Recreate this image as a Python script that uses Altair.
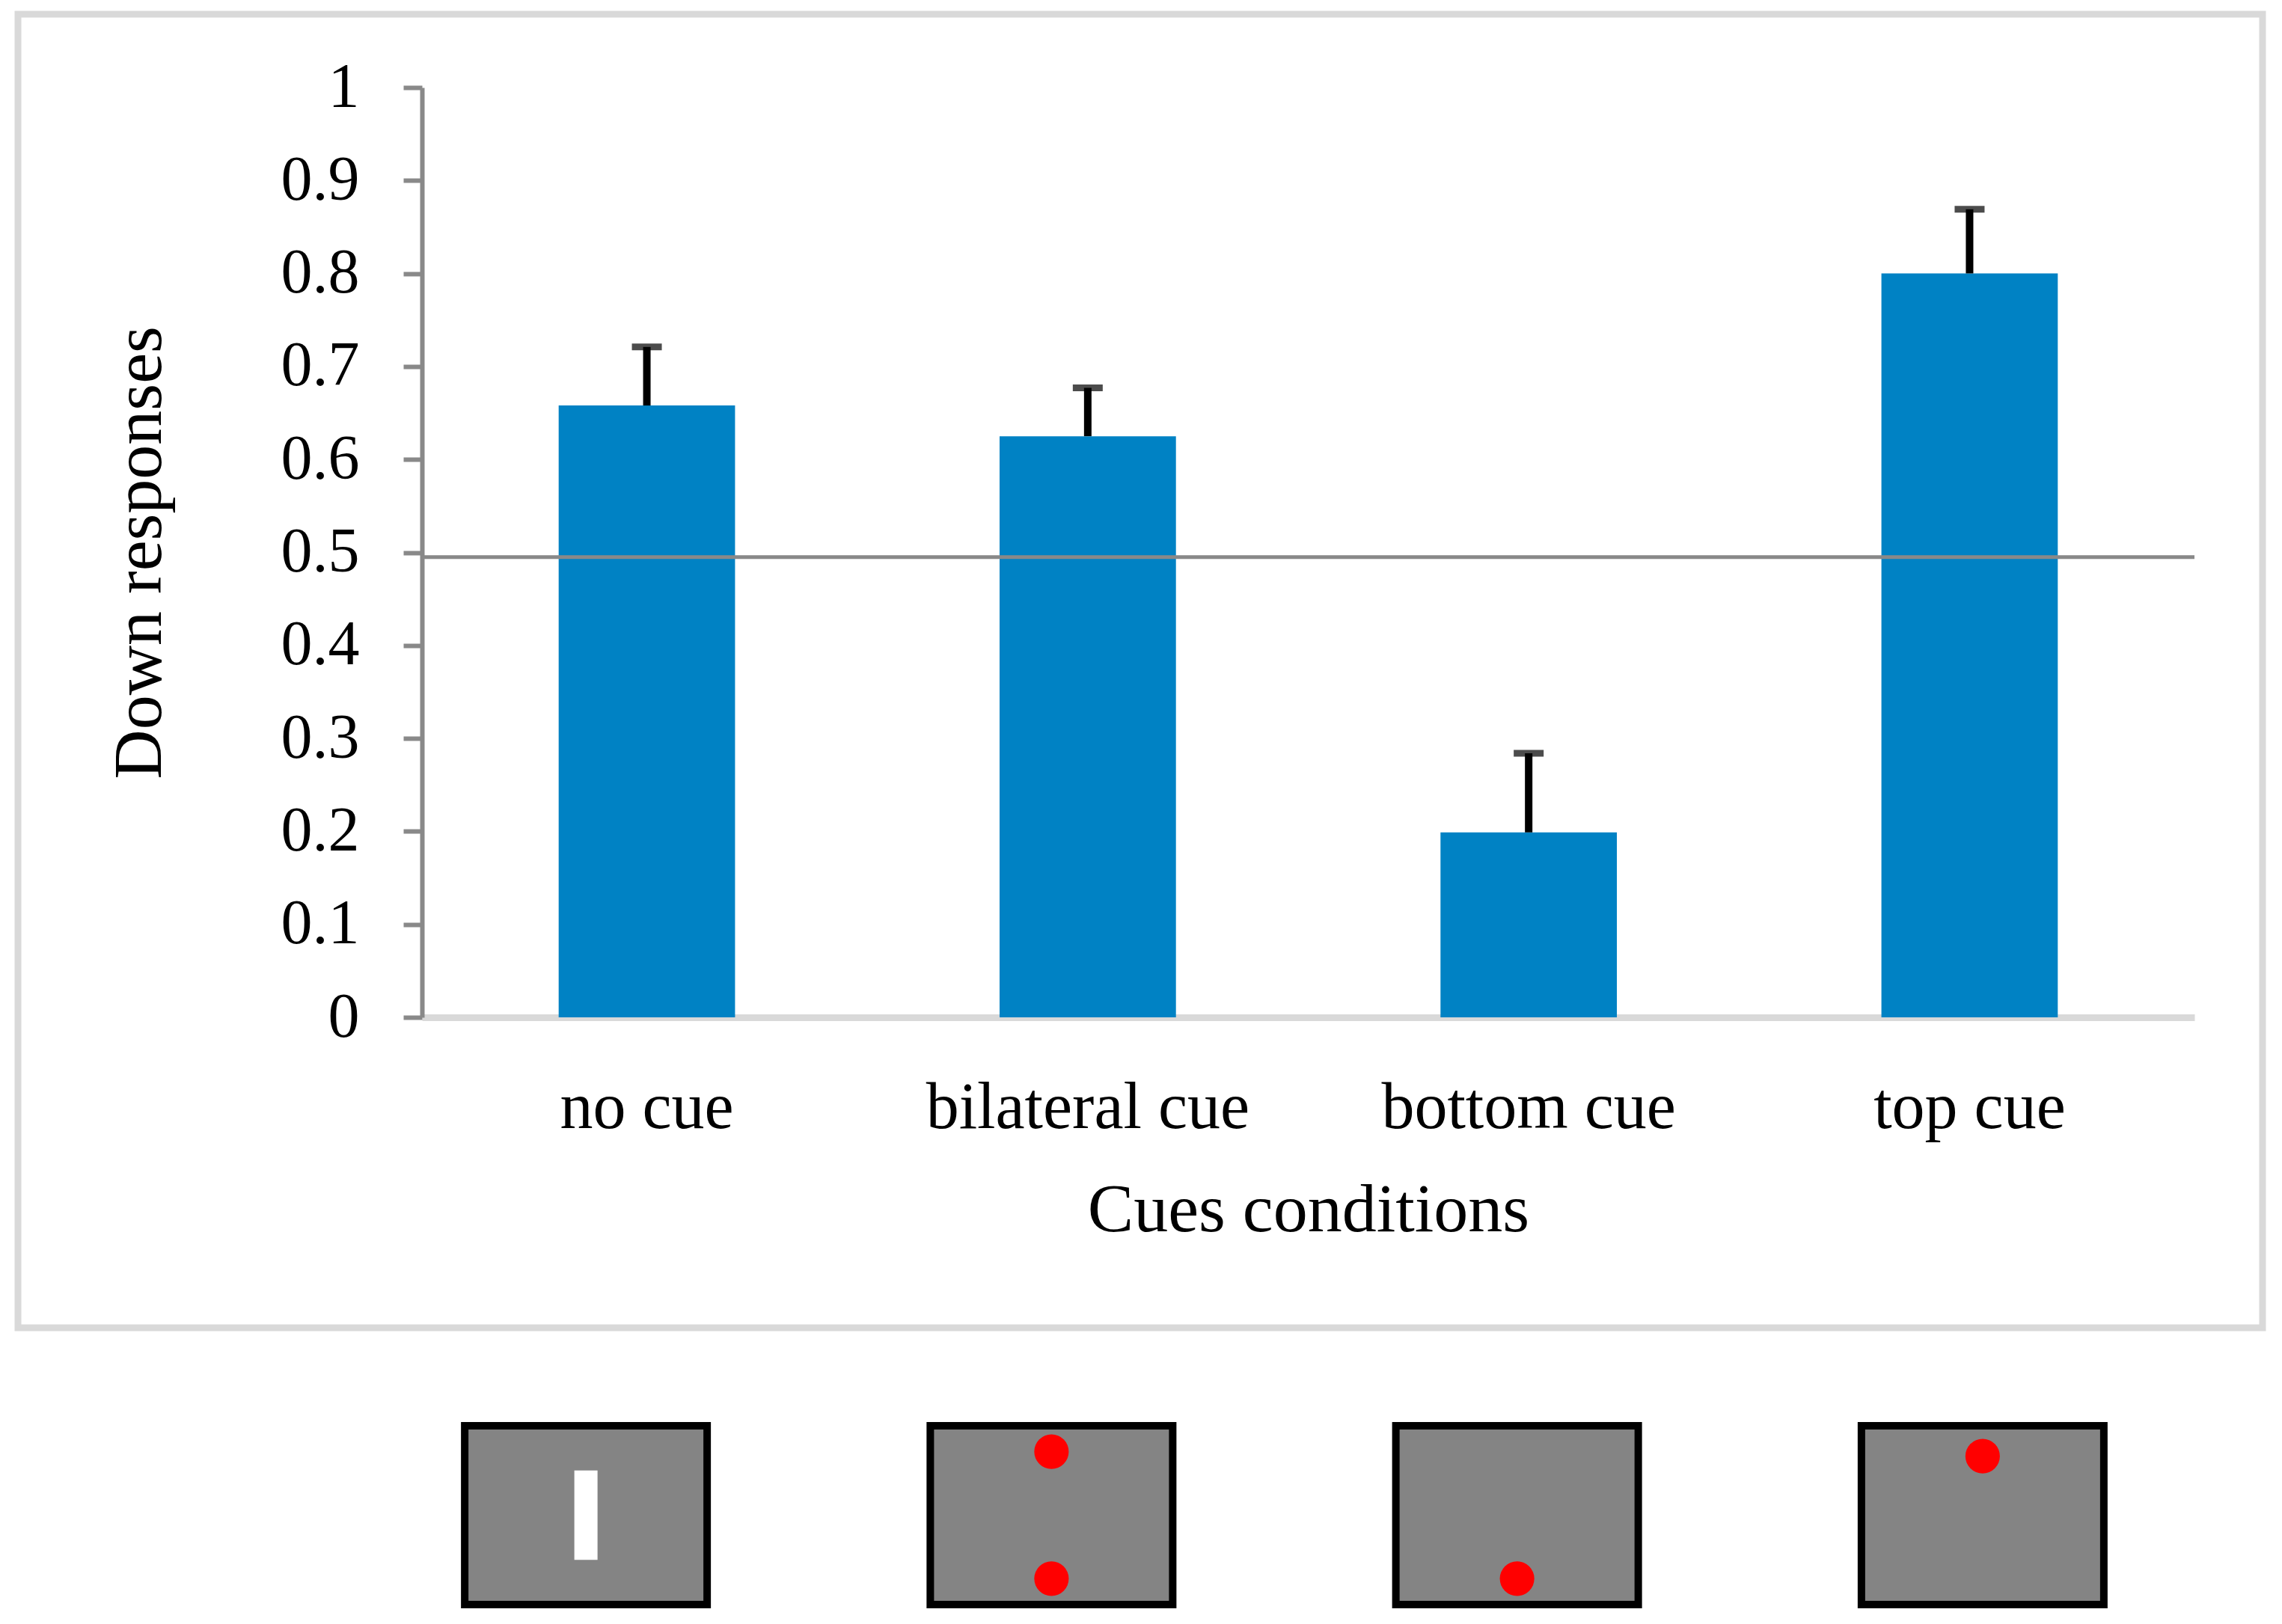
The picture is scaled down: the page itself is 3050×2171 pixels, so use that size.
import altair as alt
import pandas as pd

# ---- data ----
conditions = ["no cue", "bilateral cue", "bottom cue", "top cue"]
down_responses = [0.658, 0.625, 0.199, 0.800]
error_top = [0.721, 0.677, 0.284, 0.869]
chance_level = [0.495]
y_ticks = [0, 0.1, 0.2, 0.3, 0.4, 0.5, 0.6, 0.7, 0.8, 0.9, 1]

# stimulus illustrations below the chart (positions inside each box, 0 = bottom, 1 = top)
box_condition = ["no cue", "bilateral cue", "bottom cue", "top cue"]
box_low = [0, 0, 0, 0]
box_high = [1, 1, 1, 1]
cue_condition = ["bilateral cue", "bilateral cue", "bottom cue", "top cue"]
cue_position = [0.855, 0.145, 0.145, 0.83]
fixation_condition = ["no cue"]
fixation_low = [0.25]
fixation_high = [0.75]

df = pd.DataFrame({"condition": conditions, "value": down_responses, "err": error_top})
df_chance = pd.DataFrame({"value": chance_level})
df_box = pd.DataFrame({"condition": box_condition, "lo": box_low, "hi": box_high})
df_cue = pd.DataFrame({"condition": cue_condition, "pos": cue_position})
df_fix = pd.DataFrame({"condition": fixation_condition, "lo": fixation_low, "hi": fixation_high})

W, H = 2369, 1243
FONT = "Liberation Serif"

x_axis = alt.Axis(
    title="Cues conditions", domainColor="#d9d9d9", domainWidth=9, ticks=False, tickSize=0,
    labelFont=FONT, labelFontSize=88, labelColor="black", labelAngle=0, labelLimit=0,
    labelOverlap=False, labelBaseline="alphabetic", labelPadding=147,
    titleFont=FONT, titleFontSize=92, titleFontWeight="normal", titleColor="black",
    titleX=W / 2, titleY=285, titleBaseline="alphabetic", titleAlign="center", titleLimit=0,
)
y_axis = alt.Axis(
    values=y_ticks, format="~g", grid=False, labelOverlap=False, labelLimit=0,
    domainColor="#898989", domainWidth=6, tickColor="#898989", tickWidth=6, tickSize=25,
    labelFont=FONT, labelFontSize=84, labelColor="black", labelPadding=59,
    title="Down responses", titleFont=FONT, titleFontSize=92, titleFontWeight="normal",
    titleColor="black", titleX=-350, titleY=H / 2, titleAngle=270,
    titleBaseline="alphabetic", titleAlign="center", titleLimit=0,
)

x_main = alt.X("condition:N", sort=conditions,
               scale=alt.Scale(domain=conditions, paddingInner=0.6, paddingOuter=0.31),
               axis=x_axis, title="Cues conditions")
y_scale = alt.Scale(domain=[0, 1], nice=False)

frame = alt.Chart(df_chance).mark_rect(
    fillOpacity=0, stroke="#d9d9d9", strokeWidth=9
).encode(x=alt.value(-540), x2=alt.value(2460), y=alt.value(-98), y2=alt.value(1658))

bars = alt.Chart(df).mark_bar(color="#0082c4").encode(
    x=x_main,
    y=alt.Y("value:Q", scale=y_scale, axis=y_axis, title="Down responses"),
)
err_stem = alt.Chart(df).mark_rule(color="black", strokeWidth=10).encode(
    x=x_main,
    y=alt.Y("value:Q", scale=y_scale, title="Down responses"),
    y2="err:Q",
)
err_cap = alt.Chart(df).mark_tick(color="black", thickness=9, size=40, orient="horizontal").encode(
    x=x_main,
    y=alt.Y("err:Q", scale=y_scale, title="Down responses"),
)
chance = alt.Chart(df_chance).mark_rule(color="#898989", strokeWidth=5).encode(
    y=alt.Y("value:Q", scale=y_scale, title="Down responses"),
)

main = alt.layer(frame, bars, err_stem, err_cap, chance)

# ---- stimulus boxes ----
x_box = alt.X("condition:N", sort=conditions,
              scale=alt.Scale(domain=conditions, range=[-92, 2397], paddingInner=0, paddingOuter=0),
              axis=None)
y_box_scale = alt.Scale(domain=[0, 1], range=[2028, 1789], nice=False, zero=False)

boxes = alt.Chart(df_box).mark_bar(width=324, color="#848484", stroke="black", strokeWidth=10).encode(
    x=x_box,
    y=alt.Y("lo:Q", scale=y_box_scale, axis=None),
    y2="hi:Q",
)
fixation = alt.Chart(df_fix).mark_bar(width=31, color="white").encode(
    x=x_box,
    y=alt.Y("lo:Q", scale=y_box_scale, axis=None),
    y2="hi:Q",
)
cues = alt.Chart(df_cue).mark_circle(color="#ff0000", size=2124, opacity=1).encode(
    x=x_box,
    y=alt.Y("pos:Q", scale=y_box_scale, axis=None),
)
stim = alt.layer(boxes, fixation, cues)

chart = alt.layer(main, stim).resolve_scale(x="independent", y="independent").properties(
    width=W, height=H,
    padding={"left": 556, "top": 109, "right": 109, "bottom": 803},
    autosize=alt.AutoSizeParams(type="none"),
    background="white",
).configure_view(stroke=None)

chart.save("out.html", embed_options={"renderer": "svg", "actions": False})
